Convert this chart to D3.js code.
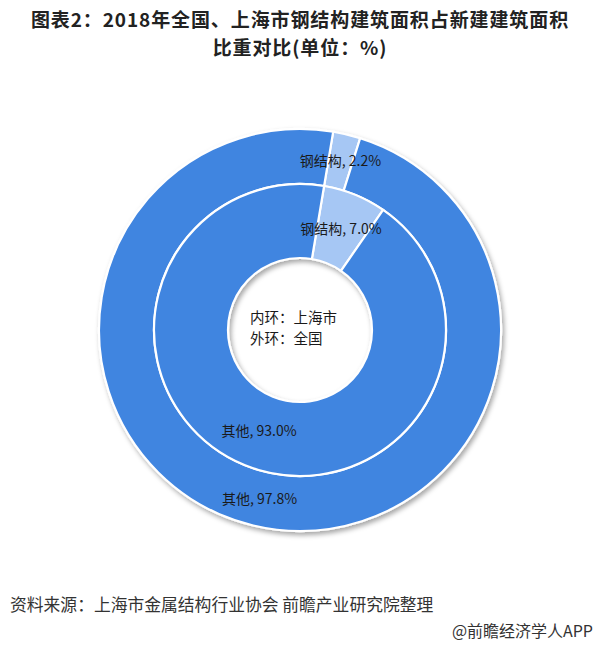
<!DOCTYPE html>
<html><head><meta charset="utf-8">
<script src="https://cdn.jsdelivr.net/npm/d3@7"></script>
<style>body{margin:0;background:#fff;}svg{display:block;font-family:"Noto Sans CJK SC","Noto Sans",sans-serif;}</style>
</head><body>
<svg id="chart" width="600" height="648"></svg>
<script>
const categories = ["钢结构", "其他"];
const innerValues = [7.0, 93.0];   // 内环：上海市
const outerValues = [2.2, 97.8];   // 外环：全国
const titleLines = ["图表2：2018年全国、上海市钢结构建筑面积占新建建筑面积", "比重对比(单位：%)"];
const centerLines = ["内环：上海市", "外环：全国"];
const sourceText = "资料来源：上海市金属结构行业协会 前瞻产业研究院整理";
const creditText = "@前瞻经济学人APP";

const svg = d3.select("#chart");
const cx = 300, cy = 330;
const color = d3.scaleOrdinal().domain(categories).range(["#A6C7F4", "#4085E0"]);
const startAngle = 9.5 * Math.PI / 180;

const defs = svg.append("defs");
const f = defs.append("filter").attr("id","shadow").attr("x","-20%").attr("y","-20%").attr("width","140%").attr("height","140%");
f.append("feDropShadow").attr("dx",2).attr("dy",3).attr("stdDeviation",2.5).attr("flood-color","#000").attr("flood-opacity",0.35);

svg.selectAll("text.title").data(titleLines).join("text").attr("class","title")
  .attr("x",300).attr("y",(d,i)=>27+i*28)
  .attr("text-anchor","middle").attr("font-size",19).attr("letter-spacing",0.9)
  .attr("font-weight","bold").attr("fill","#222").text(d=>d);

const pie = d3.pie().sort(null).startAngle(startAngle).endAngle(startAngle + 2*Math.PI);
const g = svg.append("g").attr("transform",`translate(${cx},${cy})`);
const rings = [
  {values: outerValues, r0: 146, r1: 201},
  {values: innerValues, r0: 72, r1: 146}
];
const ringG = g.append("g").attr("filter","url(#shadow)");
rings.forEach(r => {
  const arc = d3.arc().innerRadius(r.r0).outerRadius(r.r1);
  ringG.append("g").selectAll("path").data(pie(r.values)).join("path")
    .attr("d", arc).attr("fill",(d,i)=>color(categories[i]))
    .attr("stroke","#fff").attr("stroke-width",2.2);
});
rings.forEach(r => {
  const arc = d3.arc().innerRadius(r.r0).outerRadius(r.r1);
  g.append("g").selectAll("text").data(pie(r.values)).join("text")
    .attr("transform", d => `translate(${arc.centroid(d)})`)
    .attr("text-anchor","middle").attr("dy","0.35em")
    .attr("font-size",14).attr("fill","#1a1a1a")
    .text((d,i)=>`${categories[i]}, ${r.values[i].toFixed(1)}%`);
});
const center = g.append("text").attr("font-size",14.5).attr("fill","#1a1a1a");
center.selectAll("tspan").data(centerLines).join("tspan")
  .attr("x",-50).attr("y",(d,i)=>-7+i*21).text(d=>d);

svg.append("text").attr("x",10).attr("y",611).attr("font-size",16.8).attr("fill","#333").text(sourceText);
svg.append("text").attr("x",593).attr("y",637).attr("text-anchor","end").attr("font-size",16).attr("fill","#333").text(creditText);
</script>
</body></html>
